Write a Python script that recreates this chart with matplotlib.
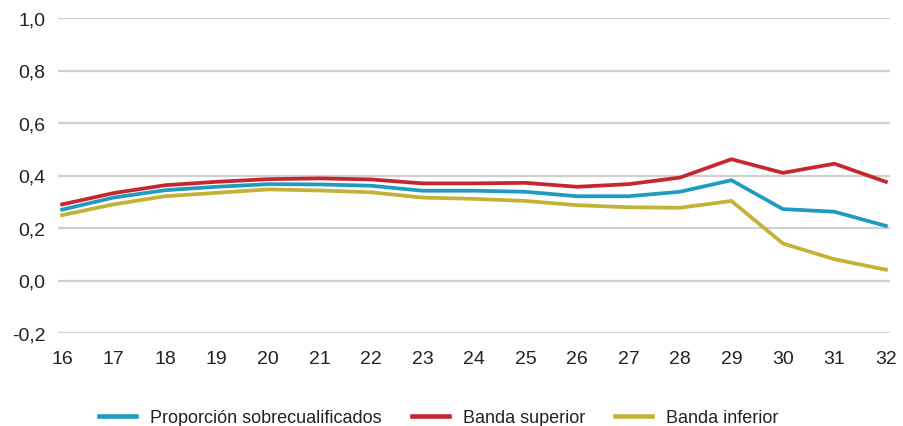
import matplotlib
matplotlib.use("Agg")
import matplotlib.pyplot as plt

plt.rcParams['font.family'] = ['Liberation Sans', 'DejaVu Sans']

# edades
edades = list(range(16, 33))

proporcion = [0.270, 0.316, 0.344, 0.357, 0.367, 0.366, 0.361, 0.342, 0.342,
              0.338, 0.321, 0.321, 0.338, 0.382, 0.272, 0.262, 0.208]
banda_sup = [0.290, 0.333, 0.363, 0.376, 0.386, 0.389, 0.385, 0.370, 0.370,
             0.372, 0.357, 0.367, 0.392, 0.462, 0.410, 0.445, 0.376]
banda_inf = [0.249, 0.290, 0.321, 0.334, 0.347, 0.343, 0.336, 0.316, 0.311,
             0.303, 0.287, 0.279, 0.277, 0.303, 0.141, 0.081, 0.041]

y_ticks = [-0.2, 0.0, 0.2, 0.4, 0.6, 0.8, 1.0]

W, H = 904, 427
fig = plt.figure(figsize=(W / 100, H / 100), dpi=100)
ax = fig.add_axes([58 / W, 1 - 334 / H, (890 - 58) / W, (334 - 19) / H])

ax.plot(edades, proporcion, color='#1f9bbf', lw=2.7, label='Proporción sobrecualificados')
ax.plot(edades, banda_sup, color='#c8262f', lw=2.7, label='Banda superior')
ax.plot(edades, banda_inf, color='#c2b236', lw=2.7, label='Banda inferior')

ax.set_xlim(15.92, 32.08)
ax.set_ylim(-0.2, 1.0)
ax.set_xticks(edades)
ax.set_yticks(y_ticks)
ax.set_yticklabels([f"{v:.1f}".replace('.', ',') for v in y_ticks])
ax.grid(axis='y', color='#d0d0d0', lw=1.6)
ax.set_axisbelow(True)
for s in ax.spines.values():
    s.set_visible(False)
ax.tick_params(length=0, labelsize=14, colors='#222222')
ax.tick_params(axis='y', pad=9)
ax.tick_params(axis='x', pad=12)

leg = fig.legend(loc='center left', bbox_to_anchor=(90 / W, 1 - 419 / H), ncol=3,
                 frameon=False, fontsize=13, borderpad=0, handlelength=2.05,
                 handletextpad=0.78, columnspacing=1.67)
for t in leg.get_texts():
    t.set_color('#222222')
for ln in leg.get_lines():
    ln.set_linewidth(3.3)

fig.savefig('out.png', dpi=100)
